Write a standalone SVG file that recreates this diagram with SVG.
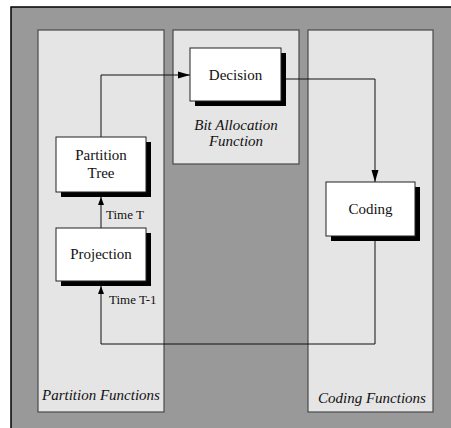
<svg xmlns="http://www.w3.org/2000/svg" width="451" height="428" viewBox="0 0 451 428">
<defs>
<style>
.panel{fill:#e5e5e5;stroke:#4a4a4a;stroke-width:1.2}
.box{fill:#fff;stroke:#222;stroke-width:1}
.shadow{fill:#000}
text{font-family:'Liberation Serif','DejaVu Serif',serif}
.t{font-size:15px;fill:#111;text-anchor:middle}
.s{font-size:13px;fill:#111}
.i{font-size:15px;font-style:italic;fill:#111;text-anchor:middle}
.c{fill:none;stroke:#111;stroke-width:1}
</style>
<marker id="ah" viewBox="0 0 12 8" refX="12" refY="4" markerWidth="12" markerHeight="8" markerUnits="userSpaceOnUse" orient="auto">
<path d="M0,0.5 L12,4 L0,7.5 Z" fill="#000"/>
</marker>
<marker id="ahs" viewBox="0 0 8 6" refX="8" refY="3" markerWidth="8" markerHeight="6" markerUnits="userSpaceOnUse" orient="auto">
<path d="M0,0 L8,3 L0,6 Z" fill="#000"/>
</marker>
</defs>
<rect x="0" y="0" width="451" height="428" fill="#fff"/>
<rect x="11" y="7" width="440" height="421" fill="#999"/>
<path d="M11,428 V7 H451" fill="none" stroke="#000" stroke-width="1.5"/>
<g id="partition-functions">
<rect class="panel" x="38" y="30" width="126" height="382"/>
<text class="i" x="101" y="400">Partition Functions</text>
</g>
<g id="bit-allocation-function">
<rect class="panel" x="173" y="30" width="126" height="134"/>
<text class="i" x="236" y="130">Bit Allocation</text>
<text class="i" x="236" y="146">Function</text>
</g>
<g id="coding-functions">
<rect class="panel" x="308" y="30" width="125" height="382"/>
<text class="i" x="372" y="403">Coding Functions</text>
</g>
<g id="connectors">
<path class="c" d="M101,137 V75 H190" marker-end="url(#ah)"/>
<path class="c" d="M281,79 H375 V182" marker-end="url(#ah)"/>
<path class="c" d="M375,241 V344 H101 V286" marker-end="url(#ahs)"/>
<path class="c" d="M101,228 V197" marker-end="url(#ahs)"/>
<text class="s" x="106" y="219">Time T</text>
<text class="s" x="109" y="304">Time T-1</text>
</g>
<g id="decision">
<rect class="shadow" x="195" y="53" width="91" height="53"/>
<rect class="box" x="190" y="48" width="91" height="53"/>
<text class="t" x="235.5" y="80">Decision</text>
</g>
<g id="partition-tree">
<rect class="shadow" x="61" y="142" width="90" height="55"/>
<rect class="box" x="56" y="137" width="90" height="55"/>
<text class="t" x="101" y="160">Partition</text>
<text class="t" x="101" y="178">Tree</text>
</g>
<g id="projection">
<rect class="shadow" x="61" y="233" width="90" height="53"/>
<rect class="box" x="56" y="228" width="90" height="53"/>
<text class="t" x="101" y="259">Projection</text>
</g>
<g id="coding">
<rect class="shadow" x="331" y="187" width="89" height="54"/>
<rect class="box" x="326" y="182" width="89" height="54"/>
<text class="t" x="370.5" y="214">Coding</text>
</g>
</svg>
